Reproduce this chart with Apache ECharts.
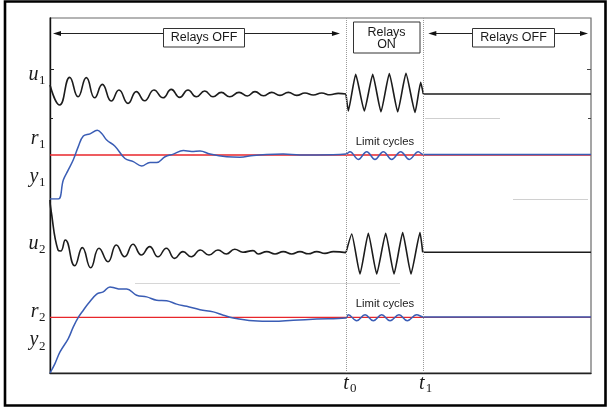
<!DOCTYPE html>
<html>
<head>
<meta charset="utf-8">
<script src="https://cdn.jsdelivr.net/npm/echarts@6/dist/echarts.min.js"></script>
<style>
html,body{margin:0;padding:0;background:#fff;}
#chart{width:611px;height:409px;}
</style>
</head>
<body>
<div id="chart"></div>
<script>
// relay switching instants, same units as the time axis
const t0 = 54.7;
const t1 = 69.0;
const tEnd = 100;
const r1 = 1;
const r2 = 1;

// u1: loop 1 control signal (peaks / troughs)
const u1Off = [[0,0.45],[1.79,-0.55],[3.64,0.83],[5.18,-0.14],[6.71,0.82],[8.26,-0.19],[9.67,0.48],[11.33,-0.35],[12.75,0.20],[14.42,-0.47],[15.95,0.12],[17.50,-0.34],[19.22,0.20],[20.89,-0.19],[22.42,0.23],[23.97,-0.17],[25.51,0.20],[27.04,-0.14],[28.60,0.15],[30.13,-0.14],[31.66,0.08],[33.22,-0.14],[34.94,0.08],[36.47,-0.10],[37.89,0.12],[39.43,-0.09],[40.98,0.08],[42.51,-0.07],[44.05,0.08],[45.60,-0.07],[47.13,0.05],[48.67,-0.05],[50.22,0.05],[51.76,-0.04],[53.29,0.03],[54.71,0]];
const u1On = [[54.71,0],[55.14,-0.85],[56.51,0.98],[58.10,-0.85],[59.65,0.98],[61.18,-0.89],[62.72,1.02],[64.27,-0.89],[65.80,1.03],[67.47,-0.92],[68.52,0.58],[69.0,0]];
const u1Hold = [[69.0,0],[100,0]];

// y1: loop 1 output
const y1 = [[0,0],[1.54,0],[2.46,0.43],[3.38,0.66],[4.31,0.89],[5.23,1.19],[6.16,1.43],[7.39,1.48],[8.74,1.56],[9.56,1.49],[10.48,1.34],[12.01,1.20],[13.86,0.92],[15.40,0.85],[16.95,0.75],[18.48,0.83],[19.72,0.83],[21.26,0.96],[22.80,1.02],[24.65,1.10],[26.19,1.08],[27.73,1.09],[29.57,1.02],[32.66,0.96],[35.12,0.95],[37.58,0.99],[40.05,1.01],[43.12,1.02],[46.21,1.00],[49.30,1.00],[54.71,1.02],[55.45,1.075],[56.99,0.90],[58.54,1.075],[60.07,0.90],[61.61,1.075],[63.16,0.90],[64.82,1.075],[66.41,0.90],[68.08,1.075],[69.0,1.01],[100,1.01]];

// u2: loop 2 control signal
const u2Off = [[0,2.65],[0.13,2.25],[1.48,0.15],[1.97,0.10],[2.83,0.65],[4.57,-0.64],[5.98,0.27],[7.52,-0.74],[9.06,0.24],[10.72,-0.44],[12.26,0.40],[13.80,-0.19],[15.34,0.44],[16.88,-0.10],[18.43,0.32],[19.96,-0.19],[21.50,0.24],[23.05,-0.27],[24.58,0.07],[26.12,-0.19],[27.78,0.15],[29.39,-0.10],[31.05,0.15],[32.59,-0.05],[34.14,0.19],[35.67,0.04],[37.52,0.12],[38.50,-0.05],[40.06,0.07],[41.59,-0.05],[43.12,0.07],[44.68,-0.05],[46.21,0.07],[47.74,-0.04],[49.30,0.07],[50.83,-0.02],[52.37,0.07],[54.71,0.02]];
const u2On = [[54.71,0.02],[55.77,0.95],[57.30,-1.05],[58.84,0.99],[60.39,-1.05],[62.05,0.99],[63.59,-1.05],[65.19,1.02],[66.73,-1.05],[68.39,1.02],[68.89,0.04]];
const u2Hold = [[68.89,0.04],[100,0.04]];

// y2: loop 2 output
const y2 = [[0,0],[0.92,0.17],[1.85,0.38],[3.38,0.62],[4.31,0.83],[5.23,1.00],[6.16,1.13],[7.08,1.25],[8.63,1.42],[9.84,1.46],[11.09,1.55],[12.01,1.53],[12.94,1.51],[14.17,1.51],[16.01,1.40],[17.87,1.37],[19.72,1.31],[21.57,1.30],[23.41,1.24],[25.27,1.20],[27.73,1.14],[30.19,1.10],[32.04,1.04],[33.88,0.99],[37.58,0.94],[41.28,0.93],[44.98,0.95],[49.30,0.97],[54.71,0.99],[55.14,1.05],[56.69,0.94],[58.23,1.05],[59.76,0.94],[61.31,1.05],[62.85,0.94],[64.51,1.05],[66.04,0.94],[67.78,1.05],[69.0,1.01],[100,1.01]];

const BLACK = '#1c1c1c', BLUE = '#3a5db5', RED = '#e8262b';
const SANS = 'Liberation Sans', SERIF = 'Liberation Serif';

// four stacked strips + one frame grid on top of them
const grids = [
  {left:50, top:18, width:541, height:100},
  {left:50, top:118, width:541, height:81},
  {left:50, top:199, width:541, height:84},
  {left:50, top:283, width:541, height:90},
  {left:50, top:18, width:541, height:355, show:true, borderColor:'#6a6a6a', borderWidth:1.2}
];
const yRanges = [[-1.2,3.8],[0,1.84],[-1.5,2.7],[0,1.62],[0,1]];

const xAxes = grids.map((g,i)=>({
  type:'value', gridIndex:i, min:0, max:tEnd, show:i===4,
  axisLine:{show:true, onZero:false, lineStyle:{color:'#222', width:1.4}},
  axisTick:{show:false}, axisLabel:{show:false}, splitLine:{show:false}
}));
const yAxes = yRanges.map((r,i)=>({
  type:'value', gridIndex:i, min:r[0], max:r[1], show:i===4,
  axisLine:{show:true, onZero:false, lineStyle:{color:'#111', width:1.4}},
  axisTick:{show:false}, axisLabel:{show:false}, splitLine:{show:false}
}));

function line(data, idx, color, width, smooth, z){
  return {type:'line', xAxisIndex:idx, yAxisIndex:idx, data:data, showSymbol:false, symbol:'none',
    smooth:smooth, lineStyle:{color:color, width:width}, silent:true, z:z||3};
}

const series = [
  line(u1Off,0,BLACK,1.6,0.5),
  line(u1On,0,BLACK,1.6,0.15),
  line(u1Hold,0,BLACK,1.6,false),
  line([[0,r1],[tEnd,r1]],1,RED,1.3,false,2),
  line(y1,1,BLUE,1.5,0.4),
  line(u2Off,2,BLACK,1.6,0.5),
  line(u2On,2,BLACK,1.6,0.15),
  line(u2Hold,2,BLACK,1.6,false),
  line([[0,r2],[tEnd,r2]],3,RED,1.3,false,2),
  line(y2,3,BLUE,1.5,0.4),
  {type:'line', xAxisIndex:4, yAxisIndex:4, data:[], silent:true,
    markLine:{symbol:'none', silent:true, animation:false, label:{show:false},
      lineStyle:{color:'#9a9a9a', type:'dotted', width:1},
      data:[{xAxis:t0},{xAxis:t1}]}}
];

const chart = echarts.init(document.getElementById('chart'));
chart.setOption({animation:false, grid:grids, xAxis:xAxes, yAxis:yAxes, series:series});

const x0 = chart.convertToPixel({xAxisIndex:4}, t0);
const x1 = chart.convertToPixel({xAxisIndex:4}, t1);

function text(x, y, s, size, family, italic, align){
  return {type:'text', x:x, y:y, silent:true, z:12,
    style:{text:s, fontSize:size, fontFamily:family, fontStyle:italic?'italic':'normal',
      fill:'#1a1a1a', align:align||'center', verticalAlign:'middle'}};
}
function math(xr, y, letter, sub, ys){
  return [text(xr, y, letter, 20, SERIF, true, 'right'), text(xr+0.5, ys, sub, 13, SERIF, false, 'left')];
}
function seg(xa, ya, xb, yb, color, w){
  return {type:'line', silent:true, z:10, shape:{x1:xa,y1:ya,x2:xb,y2:yb}, style:{stroke:color||'#222', lineWidth:w||1}};
}
function head(x, y, dir){
  return {type:'polygon', silent:true, z:10, shape:{points:[[x,y],[x-dir*8,y-2.6],[x-dir*8,y+2.6]]}, style:{fill:'#111'}};
}
function box(xa, ya, w, h){
  return {type:'rect', silent:true, z:11, shape:{x:xa,y:ya,width:w,height:h}, style:{fill:'#fff', stroke:'#333', lineWidth:1}};
}

const ay = 33.5;
const graphic = [
  {type:'rect', silent:true, z:0, shape:{x:5,y:1.5,width:600.5,height:404}, style:{fill:'none', stroke:'#000', lineWidth:2.6}},
  // faint strip boundaries
  seg(425,118.5,500,118.5,'#cfcfcf',1), seg(513,199.5,588,199.5,'#d0d0d0',1), seg(135,283.5,400,283.5,'#d6d6d6',1),
  // small ticks
  seg(50,69.5,54,69.5,'#222',1), seg(50,118.5,53,118.5,'#222',1), seg(587,69.5,591,69.5,'#444',1), seg(588,118.5,591,118.5,'#444',1),
  // left "Relays OFF"
  seg(55,ay,163.5,ay), seg(244.5,ay,x0-8,ay), head(53,ay,-1), head(x0-6,ay,1),
  box(163.5,28.5,81,18.5), text(204,37.5,'Relays OFF',12.5,SANS),
  // "Relays ON"
  box(353.5,22,66.5,31), text(386.5,32.5,'Relays',12.5,SANS), text(386.5,45,'ON',12.5,SANS),
  // right "Relays OFF"
  seg(x1+7,ay,472.5,ay), seg(554.5,ay,586,ay), head(x1+5,ay,-1), head(588,ay,1),
  box(472.5,28.5,82,18.5), text(513.5,37.5,'Relays OFF',12.5,SANS),
  // limit cycle notes
  text(385,141.5,'Limit cycles',11.3,SANS), text(385,303.5,'Limit cycles',11.3,SANS),
  // t0 / t1
  text(x0,384,'t',20,SERIF,true), text(x0+4,389,'0',13,SERIF,false,'left'),
  text(x1-1.5,384,'t',20,SERIF,true), text(x1+2.5,389,'1',13,SERIF,false,'left')
].concat(
  math(38.5,75.2,'u','1',80.3),
  math(38.5,138.5,'r','1',144.3),
  math(38.5,177.2,'y','1',182.8),
  math(38.5,243.5,'u','2',249.3),
  math(38.5,311.5,'r','2',317.3),
  math(38.5,339.8,'y','2',346.3)
);
chart.setOption({graphic:graphic});
</script>
</body>
</html>
